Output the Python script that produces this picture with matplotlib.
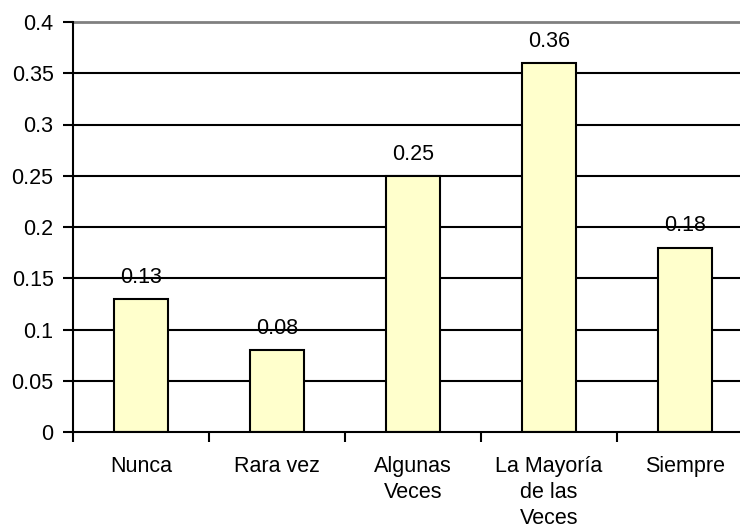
import numpy as np
import matplotlib.pyplot as plt
from matplotlib.ticker import MultipleLocator, FixedLocator, NullFormatter

categories = ["Nunca", "Rara vez", "Algunas\nVeces", "La Mayoría\nde las\nVeces", "Siempre"]
values = [0.13, 0.08, 0.25, 0.36, 0.18]
value_labels = ["0.13", "0.08", "0.25", "0.36", "0.18"]

plt.rcParams['font.family'] = ['Liberation Sans', 'DejaVu Sans']
fs = 15.5

W, H = 740, 529
fig = plt.figure(figsize=(W / 100, H / 100), dpi=100)
left, right, top, bottom = 73, 753, 22, 432
ax = fig.add_axes([left / W, (H - bottom) / H, (right - left) / W, (bottom - top) / H])

x = np.arange(len(categories))
ax.bar(x, values, width=0.4, color='#FFFFCC', edgecolor='black', linewidth=1.5, zorder=3)

ax.set_xlim(-0.5, len(categories) - 0.5)
ax.set_ylim(0, 0.4)
ax.yaxis.set_major_locator(MultipleLocator(0.05))
ax.set_yticklabels([f"{v:g}" for v in ax.get_yticks()])

# gridlines (black), top border grey
for v in np.arange(0.05, 0.4, 0.05):
    ax.axhline(v, color='black', linewidth=1.5, zorder=1)
ax.axhline(0.4, color='#808080', linewidth=2, zorder=1, clip_on=False)

for sp in ['top', 'right']:
    ax.spines[sp].set_visible(False)
for sp in ['left', 'bottom']:
    ax.spines[sp].set_linewidth(1.5)
    ax.spines[sp].set_zorder(4)

# category boundary ticks and centered labels
ax.xaxis.set_major_locator(FixedLocator(np.arange(-0.5, len(categories), 1.0)))
ax.xaxis.set_major_formatter(NullFormatter())
ax.xaxis.set_minor_locator(FixedLocator(x))
ax.set_xticklabels(categories, minor=True, fontsize=fs, linespacing=1.32, va='top')
ax.tick_params(axis='x', which='minor', length=0, pad=17)
ax.tick_params(axis='x', which='major', length=7, width=1.5, direction='out')
ax.tick_params(axis='y', length=7, width=1.5, direction='out', labelsize=fs, pad=7)

for xi, v, lab in zip(x, values, value_labels):
    ax.annotate(lab, (xi, v), xytext=(0, 8), textcoords='offset points',
                ha='center', va='bottom', fontsize=fs, zorder=5)

fig.savefig('out.png', dpi=100)
